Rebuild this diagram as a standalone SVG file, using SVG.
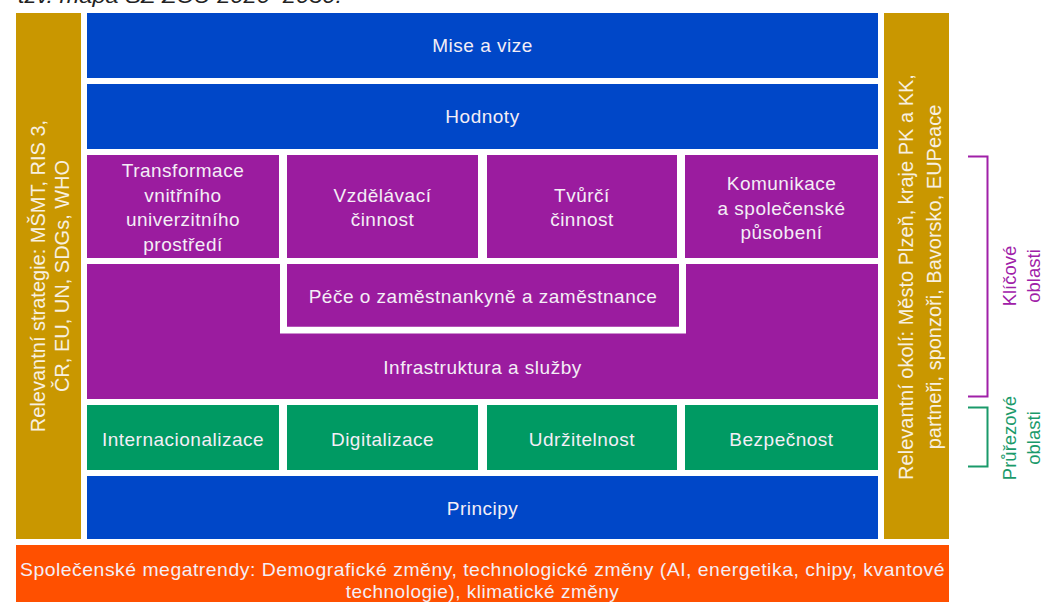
<svg xmlns="http://www.w3.org/2000/svg" width="1047" height="602" viewBox="0 0 1047 602">
<style>
.blue{fill:#0047c8}.purple{fill:#9b1c9f}.green{fill:#009a63}.gold{fill:#c99700}.orange{fill:#ff5000}
.t{font-family:"Liberation Sans",Arial,sans-serif;font-size:19px;fill:#f4eef6;text-anchor:middle;letter-spacing:0.5px}
.s{font-family:"Liberation Sans",Arial,sans-serif;font-size:20px;fill:#f8f0e0;text-anchor:middle}
.lp{font-family:"Liberation Sans",Arial,sans-serif;font-size:18.5px;fill:#a020a8;text-anchor:middle}
.lg{font-family:"Liberation Sans",Arial,sans-serif;font-size:18.5px;fill:#1a9a6a;text-anchor:middle}
</style>
<rect width="1047" height="602" fill="#ffffff"/>
<text x="18" y="3" font-family="Liberation Sans, Arial, sans-serif" font-size="20" font-style="italic" fill="#222" textLength="324" lengthAdjust="spacingAndGlyphs">tzv. mapa SZ ZČU 2026–2030.</text>

<g id="left-bar">
<rect class="gold" x="16" y="13" width="65" height="526"/>
<text class="s" transform="translate(45 276) rotate(-90)">Relevantní strategie: MŠMT, RIS 3,</text>
<text class="s" transform="translate(69 276) rotate(-90)">ČR, EU, UN, SDGs, WHO</text>
</g>
<g id="right-bar">
<rect class="gold" x="884" y="13" width="65" height="526"/>
<text class="s" transform="translate(913 277) rotate(-90)">Relevantní okolí: Město Plzeň, kraje PK a KK,</text>
<text class="s" transform="translate(941 277) rotate(-90)">partneři, sponzoři, Bavorsko, EUPeace</text>
</g>

<g id="mise">
<rect class="blue" x="87" y="13" width="791" height="65"/>
<text class="t" x="482.5" y="52">Mise a vize</text>
</g>
<g id="hodnoty">
<rect class="blue" x="87" y="84" width="791" height="65"/>
<text class="t" x="482.5" y="123">Hodnoty</text>
</g>

<g id="transformace">
<rect class="purple" x="87" y="155" width="192" height="103"/>
<text class="t" x="183" y="177">Transformace</text>
<text class="t" x="183" y="201.5">vnitřního</text>
<text class="t" x="183" y="226">univerzitního</text>
<text class="t" x="183" y="250.5">prostředí</text>
</g>
<g id="vzdelavaci">
<rect class="purple" x="287" y="155" width="191" height="103"/>
<text class="t" x="382.5" y="201.5">Vzdělávací</text>
<text class="t" x="382.5" y="226">činnost</text>
</g>
<g id="tvurci">
<rect class="purple" x="487" y="155" width="190" height="103"/>
<text class="t" x="582" y="201.5">Tvůrčí</text>
<text class="t" x="582" y="226">činnost</text>
</g>
<g id="komunikace">
<rect class="purple" x="685" y="155" width="193" height="103"/>
<text class="t" x="781.5" y="190">Komunikace</text>
<text class="t" x="781.5" y="214.5">a společenské</text>
<text class="t" x="781.5" y="238.5">působení</text>
</g>

<g id="infrastruktura">
<rect class="purple" x="87" y="264" width="791" height="135"/>
<path d="M283.5 264 V330 H682.5 V264" fill="none" stroke="#ffffff" stroke-width="7"/>
<text class="t" x="482.5" y="374">Infrastruktura a služby</text>
</g>
<g id="pece">
<rect class="purple" x="287" y="264" width="392" height="62.5"/>
<text class="t" x="483" y="303">Péče o zaměstnankyně a zaměstnance</text>
</g>

<g id="internacionalizace">
<rect class="green" x="87" y="405" width="192" height="65"/>
<text class="t" x="183" y="445.5">Internacionalizace</text>
</g>
<g id="digitalizace">
<rect class="green" x="287" y="405" width="191" height="65"/>
<text class="t" x="382.5" y="445.5">Digitalizace</text>
</g>
<g id="udrzitelnost">
<rect class="green" x="487" y="405" width="190" height="65"/>
<text class="t" x="582" y="445.5">Udržitelnost</text>
</g>
<g id="bezpecnost">
<rect class="green" x="685" y="405" width="193" height="65"/>
<text class="t" x="781.5" y="445.5">Bezpečnost</text>
</g>

<g id="principy">
<rect class="blue" x="87" y="476" width="791" height="63"/>
<text class="t" x="482.5" y="515">Principy</text>
</g>

<g id="megatrendy">
<rect class="orange" x="16" y="545" width="933" height="57"/>
<text class="t" x="482.5" y="576" textLength="925" lengthAdjust="spacingAndGlyphs">Společenské megatrendy: Demografické změny, technologické změny (AI, energetika, chipy, kvantové</text>
<text class="t" x="482.5" y="598">technologie), klimatické změny</text>
</g>

<g id="connectors">
<path d="M968 156.5 H987.5 V396.5 H968" fill="none" stroke="#a020a8" stroke-width="2"/>
<path d="M968 407.5 H987.5 V466.5 H968" fill="none" stroke="#1a9a6a" stroke-width="2"/>
</g>
<g id="klicove-label">
<text class="lp" transform="translate(1016 276) rotate(-90)">Klíčové</text>
<text class="lp" transform="translate(1040 276) rotate(-90)">oblasti</text>
</g>
<g id="prurezove-label">
<text class="lg" transform="translate(1016 438) rotate(-90)">Průřezové</text>
<text class="lg" transform="translate(1040 438) rotate(-90)">oblasti</text>
</g>
</svg>
